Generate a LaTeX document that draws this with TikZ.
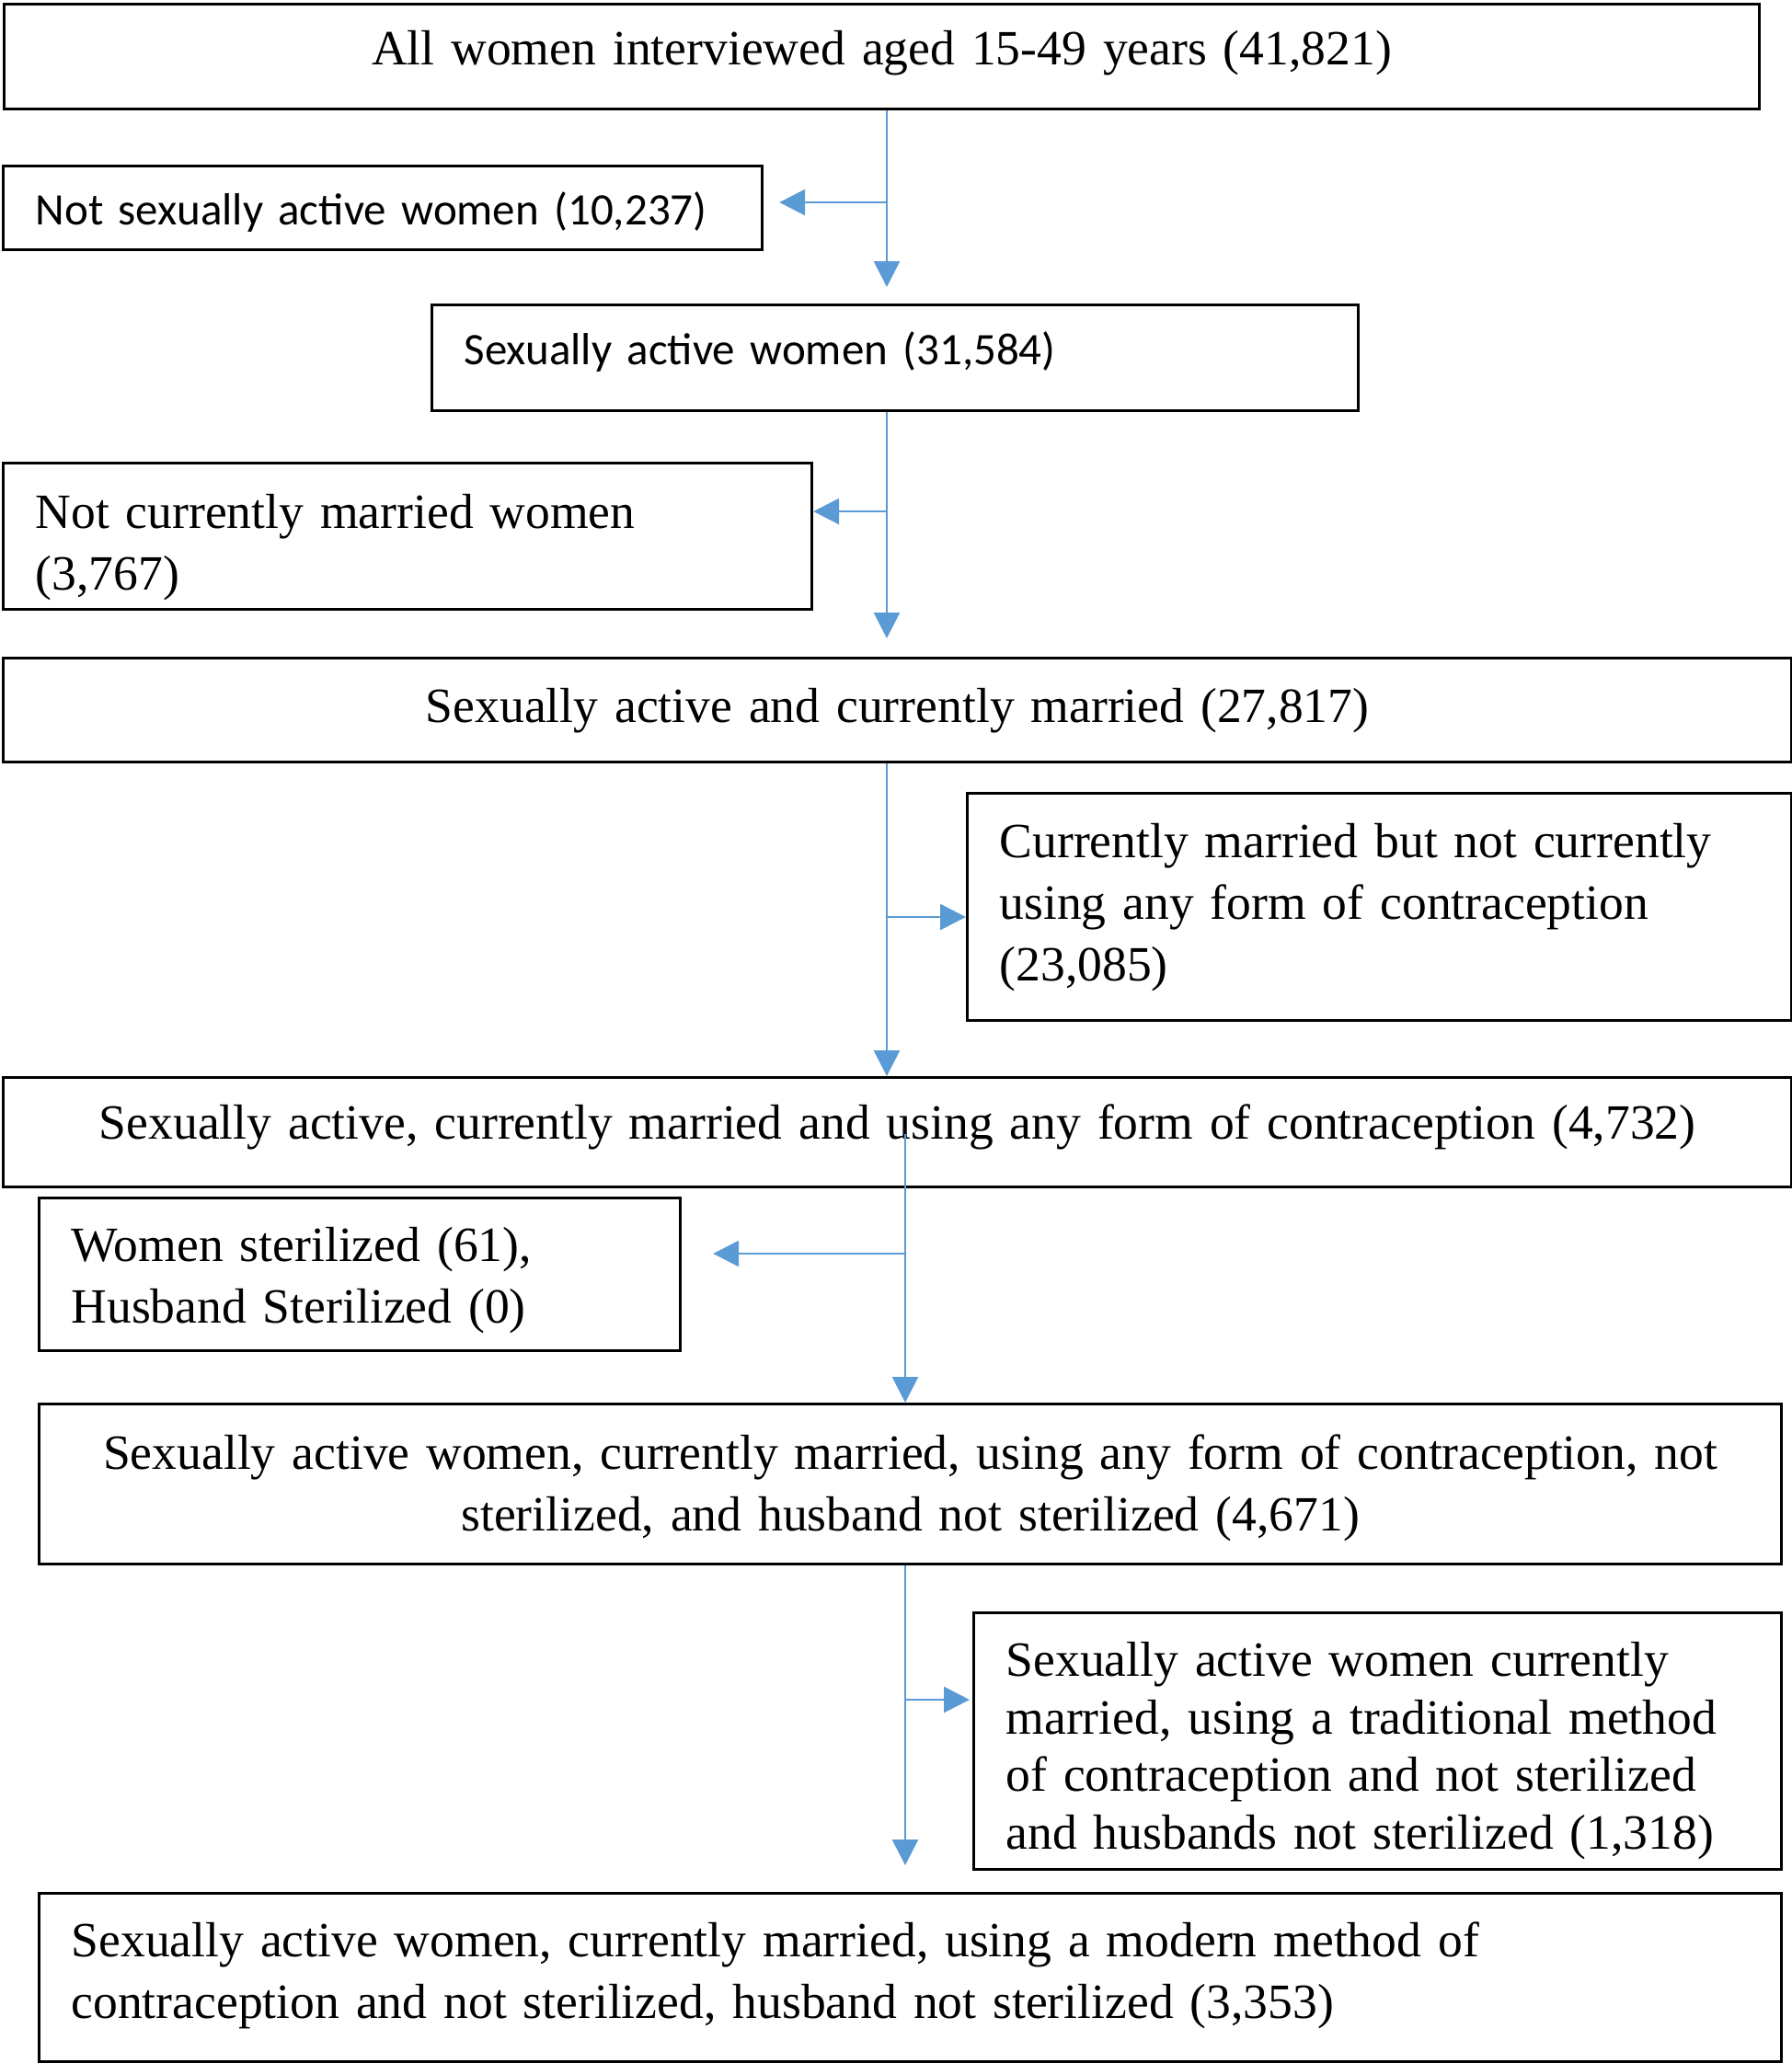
\documentclass[tikz,border=0pt]{standalone}
\usepackage{fontspec}
\setmainfont{Liberation Serif}
\newfontfamily\calibri{Carlito}
\usetikzlibrary{arrows.meta}
\definecolor{flowblue}{HTML}{5B9BD5}
% lines of a box, raised (+) or lowered (-) inside it
\newcommand{\boxtext}[3][l]{\raisebox{#2}[\height][\depth]{\begin{tabular}{@{}#1@{}}#3\end{tabular}}}

\begin{document}
\begin{tikzpicture}[x=1pt, y=-1pt,
  box/.style={draw, line width=0.8pt, anchor=north west, inner xsep=8.75pt, inner ysep=0pt,
    font=\fontsize{13.4}{16.75}\selectfont},
  leftbox/.style={box, align=left},
  midbox/.style={box, align=center},
  sansbox/.style={leftbox, font=\calibri\fontsize{12.25}{15}\selectfont},
  flow/.style={draw=flowblue, line width=0.7pt, -{Triangle[length=7pt,width=7pt]}}]
\useasboundingbox (0,0) rectangle (487,560.75);

% boxes
\node [midbox, text width=459.5pt, minimum height=28.5pt]  (all)     at (0.75,0.75)   {\boxtext{1.1pt}{All women interviewed aged 15-49 years (41,821)}};
\node [sansbox, text width=188.75pt, minimum height=22.75pt] (notact) at (0.5,44.75)  {\boxtext{-1.7pt}{Not sexually active women (10,237)}};
\node [sansbox, text width=234.25pt, minimum height=28.75pt] (act)    at (117,82.5)   {\boxtext{1.1pt}{Sexually active women (31,584)}};
\node [leftbox, text width=202.25pt, minimum height=39.75pt] (notmar) at (0.5,125.5)  {\boxtext{-2.9pt}{Not currently married women\\(3,767)}};
\node [midbox, text width=468.5pt, minimum height=28.25pt]  (mar)     at (0.5,178.5)  {\boxtext{0pt}{Sexually active and currently married (27,817)}};
\node [leftbox, text width=206.5pt, minimum height=61.75pt] (nouse)   at (262.5,215.25) {\boxtext{0pt}{Currently married but not currently\\using any form of contraception\\(23,085)}};
\node [midbox, text width=468.5pt, minimum height=29.75pt]  (use)     at (0.5,292.5)  {\boxtext{1.4pt}{Sexually active, currently married and using any form of contraception (4,732)}};
\node [leftbox, text width=156.75pt, minimum height=41.5pt] (ster)    at (10.25,325.25) {\boxtext{-1.4pt}{Women sterilized (61),\\Husband Sterilized (0)}};
\node [midbox, text width=456pt, minimum height=43.5pt]     (nonster) at (10.25,381.25) {\boxtext[c]{-1.1pt}{Sexually active women, currently married, using any form of contraception, not\\sterilized, and husband not sterilized (4,671)}};
\node [leftbox, text width=202pt, minimum height=69.75pt, font=\fontsize{13.4}{15.6}\selectfont] (trad) at (264.25,438) {\boxtext{-2.7pt}{Sexually active women currently\\married, using a traditional method\\of contraception and not sterilized\\and husbands not sterilized (1,318)}};
\node [leftbox, text width=456pt, minimum height=45.75pt]   (modern)  at (10.25,514.25) {\boxtext{0.7pt}{Sexually active women, currently married, using a modern method of\\contraception and not sterilized, husband not sterilized (3,353)}};

% branch points
\coordinate (j1) at (241,55);
\coordinate (j2) at (241,139);
\coordinate (j3) at (241,249.25);
\coordinate (s4) at (246,308.25);
\coordinate (j4) at (246,340.75);
\coordinate (j5) at (246,462);

% connectors
\draw [flow, shorten >=4.5pt] (all.south -| j1) -- (act.north -| j1);
\draw [flow, shorten >=4.25pt] (j1) -- (notact.east |- j1);
\draw [flow, shorten >=5pt] (act.south -| j2) -- (mar.north -| j2);
\draw [flow] (j2) -- (notmar.east |- j2);
\draw [flow] (mar.south -| j3) -- (use.north -| j3);
\draw [flow] (j3) -- (nouse.west |- j3);
\draw [flow] (s4) -- (nonster.north -| s4);
\draw [flow, shorten >=8.5pt] (j4) -- (ster.east |- j4);
\draw [flow, shorten >=7.25pt] (nonster.south -| j5) -- (modern.north -| j5);
\draw [flow, shorten >=0.75pt] (j5) -- (trad.west |- j5);
\end{tikzpicture}
\end{document}
